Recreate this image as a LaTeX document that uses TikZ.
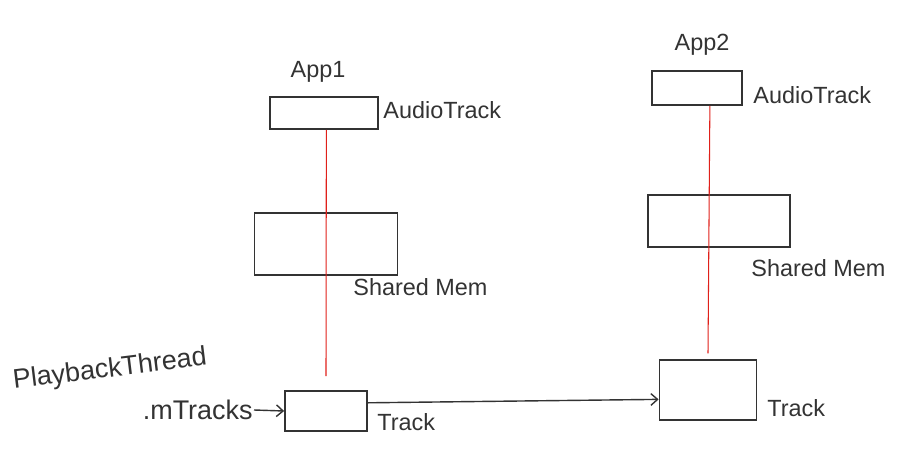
\documentclass[tikz,border=0pt]{standalone}
\usepackage{fontspec}
\setmainfont{Liberation Sans}
\usepackage{xcolor}
\definecolor{cInk}{HTML}{333333}
\definecolor{cRed}{HTML}{E0201A}
\usepackage{tikz}
\usetikzlibrary{positioning,arrows.meta}
\tikzset{
  node-box/.style={draw=cInk,line width=1.5pt,inner sep=0pt},
  node-label/.style={font=\fontsize{20}{24}\selectfont,text=cInk,inner sep=1pt},
  node-label-big/.style={node-label,font=\fontsize{23}{27}\selectfont},
  arrow/.style={-{Straight Barb[length=2mm,width=3.5mm]},line width=1.2pt,draw=cInk},
  link-red/.style={draw=cRed,line width=0.9pt},
}

\begin{document}
\begin{tikzpicture}[x=0.03cm,y=-0.03cm]
  \useasboundingbox (0,0) rectangle (911,472);
  % App1 side
  \node[node-box,minimum width=3.24cm,minimum height=0.96cm] (at1) at (324,113) {};
  \node[node-box,minimum width=4.29cm,minimum height=1.86cm] (sm1) at (326,244) {};
  \node[node-box,minimum width=2.46cm,minimum height=1.2cm] (tr1) at (326,411) {};
  \node[node-label] (app1) at (318,72) {App1};
  \node[node-label,anchor=west] (at1-l) at (382,110) {AudioTrack};
  \node[node-label,anchor=west] (sm1-l) at (352,287) {Shared Mem};
  \node[node-label,anchor=west] (tr1-l) at (376,422) {Track};
  % App2 side
  \node[node-box,minimum width=2.7cm,minimum height=1.02cm] (at2) at (697,88) {};
  \node[node-box,minimum width=4.26cm,minimum height=1.56cm] (sm2) at (719,221) {};
  \node[node-box,minimum width=2.91cm,minimum height=1.8cm] (tr2) at (708,390) {};
  \node[node-label] (app2) at (702,45) {App2};
  \node[node-label,anchor=west] (at2-l) at (752,95) {AudioTrack};
  \node[node-label,anchor=west] (sm2-l) at (750,268) {Shared Mem};
  \node[node-label,anchor=west] (tr2-l) at (766,408) {Track};
  % thread
  \node[node-label-big,rotate=7] (pt) at (110,370) {PlaybackThread};
  \node[node-label-big,anchor=east] (mt) at (254,410) {.mTracks};
  \draw[link-red] ([xshift=2pt]at1.south) -- ([yshift=12pt]tr1.north);
  \draw[link-red] ([xshift=11pt]at2.south) -- ([yshift=5pt]tr2.north);
  \draw[arrow] (mt.east) -- (tr1.west);
  \draw[arrow] ([yshift=7pt]tr1.east) -- ([yshift=-8pt]tr2.west);
\end{tikzpicture}
\end{document}
